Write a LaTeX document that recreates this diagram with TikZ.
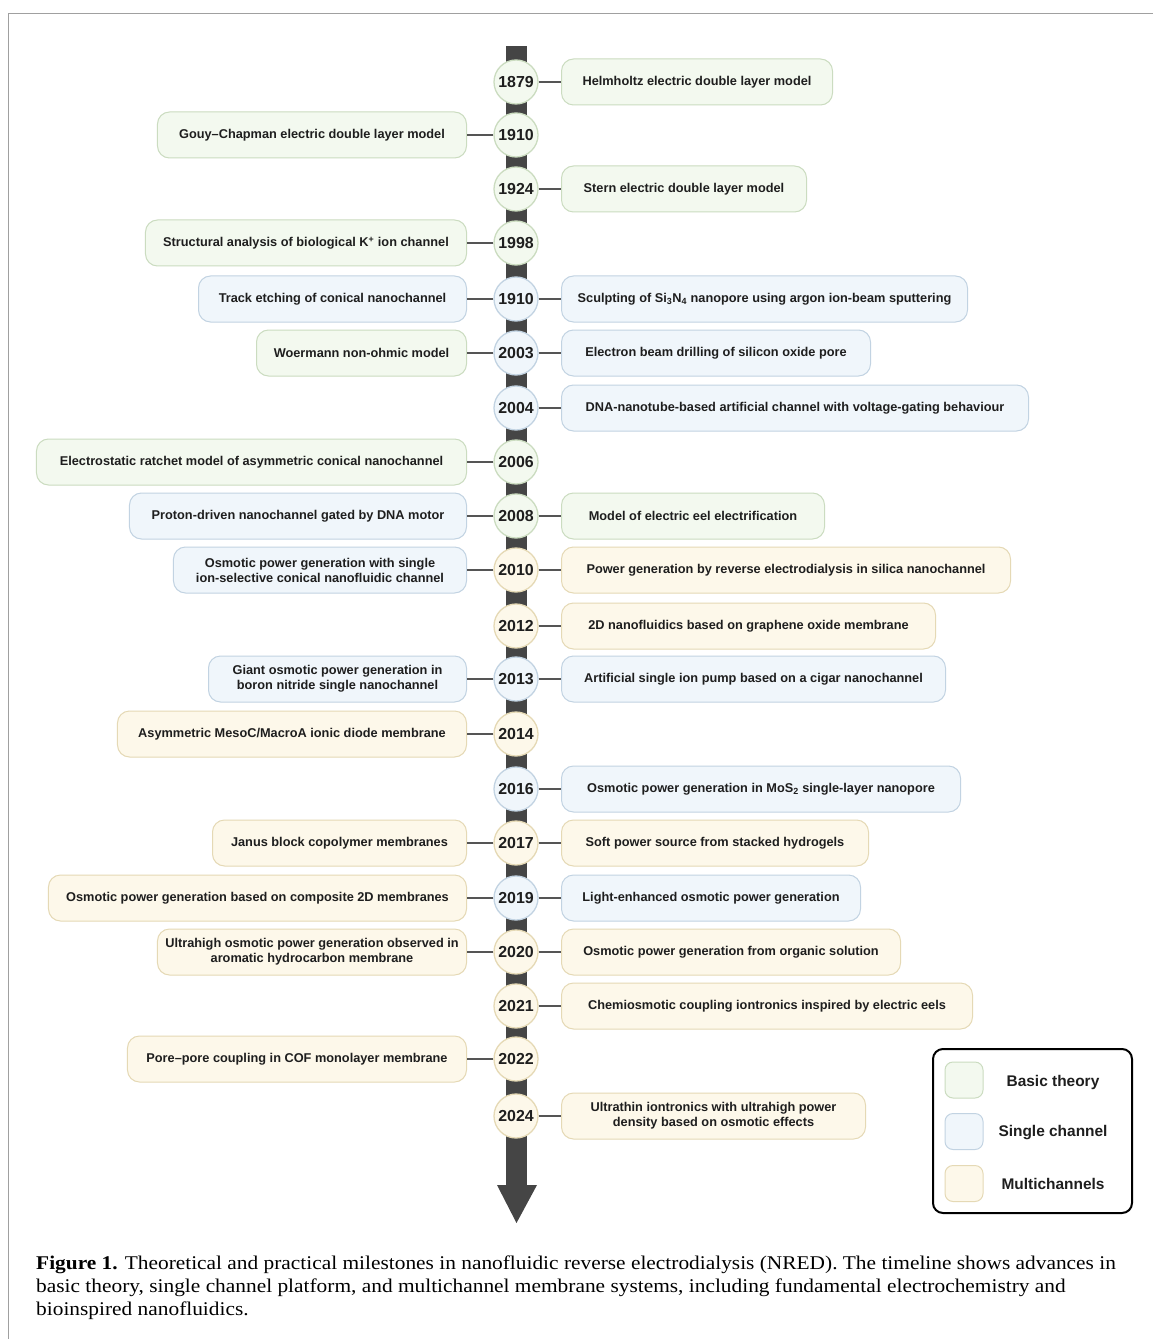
\documentclass[tikz,border=0pt]{standalone}
\usepackage{fontspec}
\setmainfont{Liberation Serif}
\newfontfamily\labfont{Liberation Sans}
\definecolor{gfill}{HTML}{F3F9EF}
\definecolor{gdraw}{HTML}{CBDCC0}
\definecolor{bfill}{HTML}{F0F6FB}
\definecolor{bdraw}{HTML}{C2D3E2}
\definecolor{yfill}{HTML}{FDF8EA}
\definecolor{ydraw}{HTML}{E5D9B5}
\definecolor{spine}{HTML}{454545}
\definecolor{linkgray}{HTML}{555555}
\definecolor{txt}{HTML}{1E1E1E}
\definecolor{frame}{HTML}{A0A0A0}
\begin{document}
\begin{tikzpicture}[x=1bp,y=-1bp,
  yr/.style={circle, inner sep=0pt, minimum size=44bp, line width=1.3bp, text=txt,
    font=\labfont\bfseries\fontsize{16}{16}\selectfont},
  gy/.style={yr, fill=gfill, draw=gdraw},
  by/.style={yr, fill=bfill, draw=bdraw},
  yy/.style={yr, fill=yfill, draw=ydraw},
  bx/.style={rounded corners=12bp, line width=1bp, minimum height=46bp, inner sep=2bp,
    align=center, text=txt, font=\labfont\bfseries\fontsize{12.8}{15}\selectfont},
  gb/.style={bx, fill=gfill, draw=gdraw},
  bb/.style={bx, fill=bfill, draw=bdraw},
  yb/.style={bx, fill=yfill, draw=ydraw},
  rt/.style={anchor=west},
  lt/.style={anchor=east},
  link/.style={draw=linkgray, line width=1.2bp},
  sw/.style={rounded corners=8bp, line width=1bp, minimum width=38bp, minimum height=36bp, inner sep=0pt},
  leg/.style={text=txt, font=\labfont\bfseries\fontsize{15.5}{18}\selectfont},
  captxt/.style={anchor=base west, inner sep=0pt, font=\fontsize{19.5}{23}\selectfont}
]
\useasboundingbox (0,0) rectangle (1153,1339);
\fill[white] (0,0) rectangle (1153,1339);
% frame
\draw[frame, line width=1.5bp] (8.5,1339) -- (8.5,13.5) -- (1153,13.5);
% spine and arrow
\fill[spine] (506,46) rectangle (527,1186);
\fill[spine] (497,1185) -- (537,1185) -- (516.5,1223) -- cycle;

% years
\node[gy] (y1) at (516,82) {1879};
\node[gy] (y2) at (516,135) {1910};
\node[gy] (y3) at (516,189) {1924};
\node[gy] (y4) at (516,243) {1998};
\node[by] (y5) at (516,299) {1910};
\node[by] (y6) at (516,353) {2003};
\node[by] (y7) at (516,408) {2004};
\node[gy] (y8) at (516,462) {2006};
\node[gy] (y9) at (516,516) {2008};
\node[yy] (y10) at (516,570) {2010};
\node[yy] (y11) at (516,626) {2012};
\node[by] (y12) at (516,679) {2013};
\node[yy] (y13) at (516,734) {2014};
\node[by] (y14) at (516,789) {2016};
\node[yy] (y15) at (516,843) {2017};
\node[by] (y16) at (516,898) {2019};
\node[yy] (y17) at (516,952) {2020};
\node[yy] (y18) at (516,1006) {2021};
\node[yy] (y19) at (516,1059) {2022};
\node[yy] (y20) at (516,1116) {2024};

% right boxes
\node[gb, rt, minimum width=271bp] (r1) at (561,82) {Helmholtz electric double layer model};
\node[gb, rt, minimum width=245bp] (r3) at (561,189) {Stern electric double layer model};
\node[bb, rt, minimum width=406bp] (r5) at (561,299) {Sculpting of Si\textsubscript{3}N\textsubscript{4} nanopore using argon ion-beam sputtering};
\node[bb, rt, minimum width=309bp] (r6) at (561,353) {Electron beam drilling of silicon oxide pore};
\node[bb, rt, minimum width=467bp] (r7) at (561,408) {DNA-nanotube-based artificial channel with voltage-gating behaviour};
\node[gb, rt, minimum width=263bp] (r9) at (561,516) {Model of electric eel electrification};
\node[yb, rt, minimum width=449bp] (r10) at (561,570) {Power generation by reverse electrodialysis in silica nanochannel};
\node[yb, rt, minimum width=374bp] (r11) at (561,626) {2D nanofluidics based on graphene oxide membrane};
\node[bb, rt, minimum width=384bp] (r12) at (561,679) {Artificial single ion pump based on a cigar nanochannel};
\node[bb, rt, minimum width=399bp] (r14) at (561,789) {Osmotic power generation in MoS\textsubscript{2} single-layer nanopore};
\node[yb, rt, minimum width=307bp] (r15) at (561,843) {Soft power source from stacked hydrogels};
\node[bb, rt, minimum width=299bp] (r16) at (561,898) {Light-enhanced osmotic power generation};
\node[yb, rt, minimum width=339bp] (r17) at (561,952) {Osmotic power generation from organic solution};
\node[yb, rt, minimum width=411bp] (r18) at (561,1006) {Chemiosmotic coupling iontronics inspired by electric eels};
\node[yb, rt, minimum width=304bp] (r20) at (561,1116) {Ultrathin iontronics with ultrahigh power\\density based on osmotic effects};

% left boxes
\node[gb, lt, minimum width=309bp] (l2) at (467,135) {Gouy–Chapman electric double layer model};
\node[gb, lt, minimum width=321bp] (l4) at (467,243) {Structural analysis of biological K\textsuperscript{+} ion channel};
\node[bb, lt, minimum width=268bp] (l5) at (467,299) {Track etching of conical nanochannel};
\node[gb, lt, minimum width=210bp] (l6) at (467,353) {Woermann non-ohmic model};
\node[gb, lt, minimum width=430bp] (l8) at (467,462) {Electrostatic ratchet model of asymmetric conical nanochannel};
\node[bb, lt, minimum width=337bp] (l9) at (467,516) {Proton-driven nanochannel gated by DNA motor};
\node[bb, lt, minimum width=293bp] (l10) at (467,570) {Osmotic power generation with single\\ion-selective conical nanofluidic channel};
\node[bb, lt, minimum width=258bp] (l12) at (467,679) {Giant osmotic power generation in\\boron nitride single nanochannel};
\node[yb, lt, minimum width=349bp] (l13) at (467,734) {Asymmetric MesoC/MacroA ionic diode membrane};
\node[yb, lt, minimum width=254bp] (l15) at (467,843) {Janus block copolymer membranes};
\node[yb, lt, minimum width=418bp] (l16) at (467,898) {Osmotic power generation based on composite 2D membranes};
\node[yb, lt, minimum width=309bp] (l17) at (467,952) {Ultrahigh osmotic power generation observed in\\aromatic hydrocarbon membrane};
\node[yb, lt, minimum width=339bp] (l19) at (467,1059) {Pore–pore coupling in COF monolayer membrane};

% connectors
\foreach \a/\b in {y1/r1, y3/r3, y5/r5, y6/r6, y7/r7, y9/r9, y10/r10, y11/r11, y12/r12,
  y14/r14, y15/r15, y16/r16, y17/r17, y18/r18, y20/r20,
  y2/l2, y4/l4, y5/l5, y6/l6, y8/l8, y9/l9, y10/l10, y12/l12, y13/l13, y15/l15,
  y16/l16, y17/l17, y19/l19}
  \draw[link] (\a) -- (\b);

% legend
\node[draw=black, line width=2bp, rounded corners=10bp, minimum width=199bp, minimum height=164bp, inner sep=0pt] (legbox) at (1032.5,1131) {};
\node[sw, fill=gfill, draw=gdraw] (s1) at (964,1080) {};
\node[sw, fill=bfill, draw=bdraw] (s2) at (964,1131.5) {};
\node[sw, fill=yfill, draw=ydraw] (s3) at (964,1183.5) {};
\node[leg] (t1) at (1053,1082) {Basic theory};
\node[leg] (t2) at (1053,1133) {Single channel};
\node[leg] (t3) at (1053,1184) {Multichannels};

% caption
\node[captxt] (c1) at (36,1269) {\scalebox{1.1}[1]{\textbf{Figure 1.} Theoretical and practical milestones in nanofluidic reverse electrodialysis (NRED). The timeline shows advances in}};
\node[captxt] (c2) at (36,1292) {\scalebox{1.1}[1]{basic theory, single channel platform, and multichannel membrane systems, including fundamental electrochemistry and}};
\node[captxt] (c3) at (36,1315) {\scalebox{1.1}[1]{bioinspired nanofluidics.}};
\end{tikzpicture}
\end{document}
